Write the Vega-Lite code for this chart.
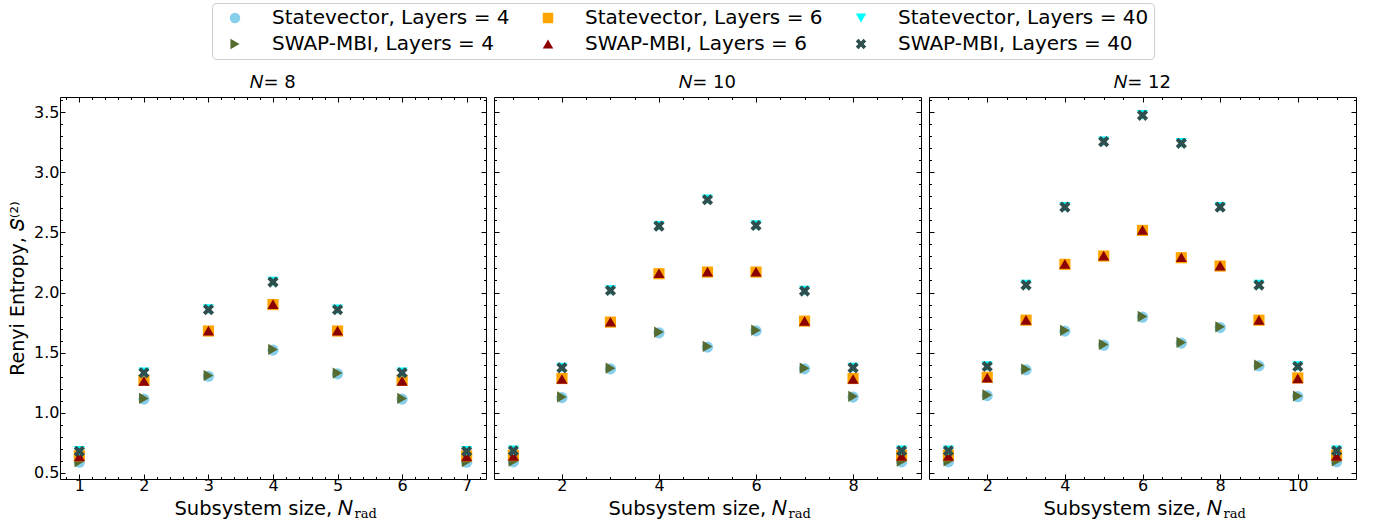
{
  "$schema": "https://vega.github.io/schema/vega-lite/v6.json",
  "padding": {"left": 8, "top": 2, "right": 5, "bottom": 5},
  "background": "#ffffff",
  "spacing": 6,
  "data": {"values": [
    {"p":8,"x":1,"s":"Statevector, Layers = 4","y":0.589},{"p":8,"x":2,"s":"Statevector, Layers = 4","y":1.114},{"p":8,"x":3,"s":"Statevector, Layers = 4","y":1.304},{"p":8,"x":4,"s":"Statevector, Layers = 4","y":1.521},{"p":8,"x":5,"s":"Statevector, Layers = 4","y":1.324},{"p":8,"x":6,"s":"Statevector, Layers = 4","y":1.114},{"p":8,"x":7,"s":"Statevector, Layers = 4","y":0.589},
    {"p":10,"x":1,"s":"Statevector, Layers = 4","y":0.592},{"p":10,"x":2,"s":"Statevector, Layers = 4","y":1.126},{"p":10,"x":3,"s":"Statevector, Layers = 4","y":1.365},{"p":10,"x":4,"s":"Statevector, Layers = 4","y":1.665},{"p":10,"x":5,"s":"Statevector, Layers = 4","y":1.546},{"p":10,"x":6,"s":"Statevector, Layers = 4","y":1.681},{"p":10,"x":7,"s":"Statevector, Layers = 4","y":1.365},{"p":10,"x":8,"s":"Statevector, Layers = 4","y":1.131},{"p":10,"x":9,"s":"Statevector, Layers = 4","y":0.592},
    {"p":12,"x":1,"s":"Statevector, Layers = 4","y":0.594},{"p":12,"x":2,"s":"Statevector, Layers = 4","y":1.143},{"p":12,"x":3,"s":"Statevector, Layers = 4","y":1.357},{"p":12,"x":4,"s":"Statevector, Layers = 4","y":1.679},{"p":12,"x":5,"s":"Statevector, Layers = 4","y":1.562},{"p":12,"x":6,"s":"Statevector, Layers = 4","y":1.795},{"p":12,"x":7,"s":"Statevector, Layers = 4","y":1.579},{"p":12,"x":8,"s":"Statevector, Layers = 4","y":1.709},{"p":12,"x":9,"s":"Statevector, Layers = 4","y":1.390},{"p":12,"x":10,"s":"Statevector, Layers = 4","y":1.134},{"p":12,"x":11,"s":"Statevector, Layers = 4","y":0.594},

    {"p":8,"x":1,"s":"SWAP-MBI, Layers = 4","y":0.595},{"p":8,"x":2,"s":"SWAP-MBI, Layers = 4","y":1.12},{"p":8,"x":3,"s":"SWAP-MBI, Layers = 4","y":1.31},{"p":8,"x":4,"s":"SWAP-MBI, Layers = 4","y":1.527},{"p":8,"x":5,"s":"SWAP-MBI, Layers = 4","y":1.33},{"p":8,"x":6,"s":"SWAP-MBI, Layers = 4","y":1.12},{"p":8,"x":7,"s":"SWAP-MBI, Layers = 4","y":0.595},
    {"p":10,"x":1,"s":"SWAP-MBI, Layers = 4","y":0.598},{"p":10,"x":2,"s":"SWAP-MBI, Layers = 4","y":1.132},{"p":10,"x":3,"s":"SWAP-MBI, Layers = 4","y":1.371},{"p":10,"x":4,"s":"SWAP-MBI, Layers = 4","y":1.671},{"p":10,"x":5,"s":"SWAP-MBI, Layers = 4","y":1.552},{"p":10,"x":6,"s":"SWAP-MBI, Layers = 4","y":1.687},{"p":10,"x":7,"s":"SWAP-MBI, Layers = 4","y":1.371},{"p":10,"x":8,"s":"SWAP-MBI, Layers = 4","y":1.137},{"p":10,"x":9,"s":"SWAP-MBI, Layers = 4","y":0.598},
    {"p":12,"x":1,"s":"SWAP-MBI, Layers = 4","y":0.6},{"p":12,"x":2,"s":"SWAP-MBI, Layers = 4","y":1.149},{"p":12,"x":3,"s":"SWAP-MBI, Layers = 4","y":1.363},{"p":12,"x":4,"s":"SWAP-MBI, Layers = 4","y":1.685},{"p":12,"x":5,"s":"SWAP-MBI, Layers = 4","y":1.568},{"p":12,"x":6,"s":"SWAP-MBI, Layers = 4","y":1.801},{"p":12,"x":7,"s":"SWAP-MBI, Layers = 4","y":1.585},{"p":12,"x":8,"s":"SWAP-MBI, Layers = 4","y":1.715},{"p":12,"x":9,"s":"SWAP-MBI, Layers = 4","y":1.396},{"p":12,"x":10,"s":"SWAP-MBI, Layers = 4","y":1.14},{"p":12,"x":11,"s":"SWAP-MBI, Layers = 4","y":0.6},

    {"p":8,"x":1,"s":"Statevector, Layers = 6","y":0.642},{"p":8,"x":2,"s":"Statevector, Layers = 6","y":1.27},{"p":8,"x":3,"s":"Statevector, Layers = 6","y":1.68},{"p":8,"x":4,"s":"Statevector, Layers = 6","y":1.90},{"p":8,"x":5,"s":"Statevector, Layers = 6","y":1.68},{"p":8,"x":6,"s":"Statevector, Layers = 6","y":1.27},{"p":8,"x":7,"s":"Statevector, Layers = 6","y":0.642},
    {"p":10,"x":1,"s":"Statevector, Layers = 6","y":0.645},{"p":10,"x":2,"s":"Statevector, Layers = 6","y":1.285},{"p":10,"x":3,"s":"Statevector, Layers = 6","y":1.754},{"p":10,"x":4,"s":"Statevector, Layers = 6","y":2.156},{"p":10,"x":5,"s":"Statevector, Layers = 6","y":2.170},{"p":10,"x":6,"s":"Statevector, Layers = 6","y":2.170},{"p":10,"x":7,"s":"Statevector, Layers = 6","y":1.762},{"p":10,"x":8,"s":"Statevector, Layers = 6","y":1.285},{"p":10,"x":9,"s":"Statevector, Layers = 6","y":0.645},
    {"p":12,"x":1,"s":"Statevector, Layers = 6","y":0.645},{"p":12,"x":2,"s":"Statevector, Layers = 6","y":1.296},{"p":12,"x":3,"s":"Statevector, Layers = 6","y":1.770},{"p":12,"x":4,"s":"Statevector, Layers = 6","y":2.234},{"p":12,"x":5,"s":"Statevector, Layers = 6","y":2.303},{"p":12,"x":6,"s":"Statevector, Layers = 6","y":2.516},{"p":12,"x":7,"s":"Statevector, Layers = 6","y":2.289},{"p":12,"x":8,"s":"Statevector, Layers = 6","y":2.220},{"p":12,"x":9,"s":"Statevector, Layers = 6","y":1.770},{"p":12,"x":10,"s":"Statevector, Layers = 6","y":1.29},{"p":12,"x":11,"s":"Statevector, Layers = 6","y":0.645},

    {"p":8,"x":1,"s":"SWAP-MBI, Layers = 6","y":0.638},{"p":8,"x":2,"s":"SWAP-MBI, Layers = 6","y":1.266},{"p":8,"x":3,"s":"SWAP-MBI, Layers = 6","y":1.683},{"p":8,"x":4,"s":"SWAP-MBI, Layers = 6","y":1.904},{"p":8,"x":5,"s":"SWAP-MBI, Layers = 6","y":1.683},{"p":8,"x":6,"s":"SWAP-MBI, Layers = 6","y":1.266},{"p":8,"x":7,"s":"SWAP-MBI, Layers = 6","y":0.638},
    {"p":10,"x":1,"s":"SWAP-MBI, Layers = 6","y":0.641},{"p":10,"x":2,"s":"SWAP-MBI, Layers = 6","y":1.281},{"p":10,"x":3,"s":"SWAP-MBI, Layers = 6","y":1.757},{"p":10,"x":4,"s":"SWAP-MBI, Layers = 6","y":2.16},{"p":10,"x":5,"s":"SWAP-MBI, Layers = 6","y":2.174},{"p":10,"x":6,"s":"SWAP-MBI, Layers = 6","y":2.173},{"p":10,"x":7,"s":"SWAP-MBI, Layers = 6","y":1.765},{"p":10,"x":8,"s":"SWAP-MBI, Layers = 6","y":1.281},{"p":10,"x":9,"s":"SWAP-MBI, Layers = 6","y":0.641},
    {"p":12,"x":1,"s":"SWAP-MBI, Layers = 6","y":0.641},{"p":12,"x":2,"s":"SWAP-MBI, Layers = 6","y":1.292},{"p":12,"x":3,"s":"SWAP-MBI, Layers = 6","y":1.773},{"p":12,"x":4,"s":"SWAP-MBI, Layers = 6","y":2.238},{"p":12,"x":5,"s":"SWAP-MBI, Layers = 6","y":2.307},{"p":12,"x":6,"s":"SWAP-MBI, Layers = 6","y":2.52},{"p":12,"x":7,"s":"SWAP-MBI, Layers = 6","y":2.293},{"p":12,"x":8,"s":"SWAP-MBI, Layers = 6","y":2.224},{"p":12,"x":9,"s":"SWAP-MBI, Layers = 6","y":1.773},{"p":12,"x":10,"s":"SWAP-MBI, Layers = 6","y":1.286},{"p":12,"x":11,"s":"SWAP-MBI, Layers = 6","y":0.641},

    {"p":8,"x":1,"s":"Statevector, Layers = 40","y":0.684},{"p":8,"x":2,"s":"Statevector, Layers = 40","y":1.336},{"p":8,"x":3,"s":"Statevector, Layers = 40","y":1.862},{"p":8,"x":4,"s":"Statevector, Layers = 40","y":2.091},{"p":8,"x":5,"s":"Statevector, Layers = 40","y":1.861},{"p":8,"x":6,"s":"Statevector, Layers = 40","y":1.336},{"p":8,"x":7,"s":"Statevector, Layers = 40","y":0.684},
    {"p":10,"x":1,"s":"Statevector, Layers = 40","y":0.688},{"p":10,"x":2,"s":"Statevector, Layers = 40","y":1.377},{"p":10,"x":3,"s":"Statevector, Layers = 40","y":2.020},{"p":10,"x":4,"s":"Statevector, Layers = 40","y":2.555},{"p":10,"x":5,"s":"Statevector, Layers = 40","y":2.775},{"p":10,"x":6,"s":"Statevector, Layers = 40","y":2.560},{"p":10,"x":7,"s":"Statevector, Layers = 40","y":2.015},{"p":10,"x":8,"s":"Statevector, Layers = 40","y":1.377},{"p":10,"x":9,"s":"Statevector, Layers = 40","y":0.688},
    {"p":12,"x":1,"s":"Statevector, Layers = 40","y":0.688},{"p":12,"x":2,"s":"Statevector, Layers = 40","y":1.388},{"p":12,"x":3,"s":"Statevector, Layers = 40","y":2.065},{"p":12,"x":4,"s":"Statevector, Layers = 40","y":2.713},{"p":12,"x":5,"s":"Statevector, Layers = 40","y":3.257},{"p":12,"x":6,"s":"Statevector, Layers = 40","y":3.476},{"p":12,"x":7,"s":"Statevector, Layers = 40","y":3.243},{"p":12,"x":8,"s":"Statevector, Layers = 40","y":2.713},{"p":12,"x":9,"s":"Statevector, Layers = 40","y":2.065},{"p":12,"x":10,"s":"Statevector, Layers = 40","y":1.388},{"p":12,"x":11,"s":"Statevector, Layers = 40","y":0.688},

    {"p":8,"x":1,"s":"SWAP-MBI, Layers = 40","y":0.68},{"p":8,"x":2,"s":"SWAP-MBI, Layers = 40","y":1.333},{"p":8,"x":3,"s":"SWAP-MBI, Layers = 40","y":1.858},{"p":8,"x":4,"s":"SWAP-MBI, Layers = 40","y":2.087},{"p":8,"x":5,"s":"SWAP-MBI, Layers = 40","y":1.857},{"p":8,"x":6,"s":"SWAP-MBI, Layers = 40","y":1.333},{"p":8,"x":7,"s":"SWAP-MBI, Layers = 40","y":0.68},
    {"p":10,"x":1,"s":"SWAP-MBI, Layers = 40","y":0.685},{"p":10,"x":2,"s":"SWAP-MBI, Layers = 40","y":1.374},{"p":10,"x":3,"s":"SWAP-MBI, Layers = 40","y":2.017},{"p":10,"x":4,"s":"SWAP-MBI, Layers = 40","y":2.552},{"p":10,"x":5,"s":"SWAP-MBI, Layers = 40","y":2.771},{"p":10,"x":6,"s":"SWAP-MBI, Layers = 40","y":2.557},{"p":10,"x":7,"s":"SWAP-MBI, Layers = 40","y":2.012},{"p":10,"x":8,"s":"SWAP-MBI, Layers = 40","y":1.374},{"p":10,"x":9,"s":"SWAP-MBI, Layers = 40","y":0.685},
    {"p":12,"x":1,"s":"SWAP-MBI, Layers = 40","y":0.685},{"p":12,"x":2,"s":"SWAP-MBI, Layers = 40","y":1.385},{"p":12,"x":3,"s":"SWAP-MBI, Layers = 40","y":2.062},{"p":12,"x":4,"s":"SWAP-MBI, Layers = 40","y":2.710},{"p":12,"x":5,"s":"SWAP-MBI, Layers = 40","y":3.254},{"p":12,"x":6,"s":"SWAP-MBI, Layers = 40","y":3.473},{"p":12,"x":7,"s":"SWAP-MBI, Layers = 40","y":3.240},{"p":12,"x":8,"s":"SWAP-MBI, Layers = 40","y":2.710},{"p":12,"x":9,"s":"SWAP-MBI, Layers = 40","y":2.062},{"p":12,"x":10,"s":"SWAP-MBI, Layers = 40","y":1.385},{"p":12,"x":11,"s":"SWAP-MBI, Layers = 40","y":0.685}
  ]},
  "hconcat": [
    {
      "width": 426, "height": 382,
      "title": {"text": "𝑁=  8"},
      "transform": [{"filter": "datum.p == 8"}],
      "layer": [
        {"mark": {"type": "point", "filled": true, "opacity": 1, "size": 125, "strokeWidth": 0},
         "encoding": {
           "x": {"field": "x", "type": "quantitative", "scale": {"domain": [0.7, 7.3], "nice": false, "zero": false},
                 "axis": {"orient": "bottom", "values": [1,2,3,4,5,6,7], "tickSize": -5, "labelPadding": 3, "format": "d", "title": "Subsystem size, 𝑁", "titleFontSize": 19.5, "titleAlign": "right", "titleX": 293, "titleY": 35, "titleBaseline": "alphabetic"}},
           "y": {"field": "y", "type": "quantitative", "scale": {"domain": [0.45, 3.625], "nice": false, "zero": false},
                 "axis": {"orient": "left", "values": [0.5,1,1.5,2,2.5,3,3.5], "format": ".1f", "tickSize": -5, "labelPadding": 6, "title": "Renyi Entropy, 𝑆⁽²⁾", "titlePadding": 6}},
           "color": {"field": "s", "type": "nominal",
                     "scale": {"domain": ["Statevector, Layers = 4","SWAP-MBI, Layers = 4","Statevector, Layers = 6","SWAP-MBI, Layers = 6","Statevector, Layers = 40","SWAP-MBI, Layers = 40"],
                               "range": ["#87CEEB","#556B2F","#FFA500","#8B0000","#00FFFF","#2F4F4F"]},
                     "legend": {"orient": "none", "legendX": 152, "legendY": -94, "columns": 3, "title": null}},
           "shape": {"field": "s", "type": "nominal",
                     "scale": {"domain": ["Statevector, Layers = 4","SWAP-MBI, Layers = 4","Statevector, Layers = 6","SWAP-MBI, Layers = 6","Statevector, Layers = 40","SWAP-MBI, Layers = 40"],
                               "range": ["circle","triangle-right","square","triangle-up","triangle-down","M-1,-0.5L-0.5,-1L0,-0.5L0.5,-1L1,-0.5L0.5,0L1,0.5L0.5,1L0,0.5L-0.5,1L-1,0.5L-0.5,0Z"]},
                     "legend": {"orient": "none", "legendX": 152, "legendY": -94, "columns": 3, "title": null}}
         }},
        {"mark": {"type": "point", "opacity": 0},
         "encoding": {
           "x": {"field": "x", "type": "quantitative", "scale": {"domain": [0.7, 7.3], "nice": false, "zero": false},
                 "axis": {"orient": "bottom", "values": [0.8,1.2,1.4,1.6,1.8,2.2,2.4,2.6,2.8,3.2,3.4,3.6,3.8,4.2,4.4,4.6,4.8,5.2,5.4,5.6,5.8,6.2,6.4,6.6,6.8,7.2], "tickSize": -2.5, "labels": false, "title": "rad", "titleFontSize": 13, "titleAlign": "left", "titleX": 294, "titleY": 38, "titleBaseline": "alphabetic", "titleFont": "DejaVu Serif"}},
           "y": {"field": "y", "type": "quantitative", "scale": {"domain": [0.45, 3.625], "nice": false, "zero": false},
                 "axis": {"orient": "left", "values": [0.6,0.7,0.8,0.9,1.1,1.2,1.3,1.4,1.6,1.7,1.8,1.9,2.1,2.2,2.3,2.4,2.6,2.7,2.8,2.9,3.1,3.2,3.3,3.4,3.6], "tickSize": -2.5, "labels": false, "title": null}}
         }},
        {"mark": {"type": "point", "opacity": 0},
         "encoding": {
           "x": {"field": "x", "type": "quantitative", "scale": {"domain": [0.7, 7.3], "nice": false, "zero": false},
                 "axis": {"orient": "top", "values": [1,2,3,4,5,6,7], "tickSize": -5, "labels": false, "title": null}},
           "y": {"field": "y", "type": "quantitative", "scale": {"domain": [0.45, 3.625], "nice": false, "zero": false},
                 "axis": {"orient": "right", "values": [0.5,1,1.5,2,2.5,3,3.5], "tickSize": -5, "labels": false, "title": null}}
         }},
        {"mark": {"type": "point", "opacity": 0},
         "encoding": {
           "x": {"field": "x", "type": "quantitative", "scale": {"domain": [0.7, 7.3], "nice": false, "zero": false},
                 "axis": {"orient": "top", "values": [0.8,1.2,1.4,1.6,1.8,2.2,2.4,2.6,2.8,3.2,3.4,3.6,3.8,4.2,4.4,4.6,4.8,5.2,5.4,5.6,5.8,6.2,6.4,6.6,6.8,7.2], "tickSize": -2.5, "labels": false, "title": null}},
           "y": {"field": "y", "type": "quantitative", "scale": {"domain": [0.45, 3.625], "nice": false, "zero": false},
                 "axis": {"orient": "right", "values": [0.6,0.7,0.8,0.9,1.1,1.2,1.3,1.4,1.6,1.7,1.8,1.9,2.1,2.2,2.3,2.4,2.6,2.7,2.8,2.9,3.1,3.2,3.3,3.4,3.6], "tickSize": -2.5, "labels": false, "title": null}}
         }}
      ],
      "resolve": {"axis": {"x": "independent", "y": "independent"}}
    },
    {
      "width": 427, "height": 382,
      "title": {"text": "𝑁=  10"},
      "transform": [{"filter": "datum.p == 10"}],
      "layer": [
        {"mark": {"type": "point", "filled": true, "opacity": 1, "size": 125, "strokeWidth": 0},
         "encoding": {
           "x": {"field": "x", "type": "quantitative", "scale": {"domain": [0.6, 9.4], "nice": false, "zero": false},
                 "axis": {"orient": "bottom", "values": [2,4,6,8], "tickSize": -5, "labelPadding": 3, "format": "d", "title": "Subsystem size, 𝑁", "titleFontSize": 19.5, "titleAlign": "right", "titleX": 293, "titleY": 35, "titleBaseline": "alphabetic"}},
           "y": {"field": "y", "type": "quantitative", "scale": {"domain": [0.45, 3.625], "nice": false, "zero": false},
                 "axis": {"orient": "left", "values": [0.5,1,1.5,2,2.5,3,3.5], "tickSize": -5, "labels": false, "title": null}},
           "color": {"field": "s", "type": "nominal",
                     "scale": {"domain": ["Statevector, Layers = 4","SWAP-MBI, Layers = 4","Statevector, Layers = 6","SWAP-MBI, Layers = 6","Statevector, Layers = 40","SWAP-MBI, Layers = 40"],
                               "range": ["#87CEEB","#556B2F","#FFA500","#8B0000","#00FFFF","#2F4F4F"]},
                     "legend": {"orient": "none", "legendX": 152, "legendY": -94, "columns": 3, "title": null}},
           "shape": {"field": "s", "type": "nominal",
                     "scale": {"domain": ["Statevector, Layers = 4","SWAP-MBI, Layers = 4","Statevector, Layers = 6","SWAP-MBI, Layers = 6","Statevector, Layers = 40","SWAP-MBI, Layers = 40"],
                               "range": ["circle","triangle-right","square","triangle-up","triangle-down","M-1,-0.5L-0.5,-1L0,-0.5L0.5,-1L1,-0.5L0.5,0L1,0.5L0.5,1L0,0.5L-0.5,1L-1,0.5L-0.5,0Z"]},
                     "legend": {"orient": "none", "legendX": 152, "legendY": -94, "columns": 3, "title": null}}
         }},
        {"mark": {"type": "point", "opacity": 0},
         "encoding": {
           "x": {"field": "x", "type": "quantitative", "scale": {"domain": [0.6, 9.4], "nice": false, "zero": false},
                 "axis": {"orient": "bottom", "values": [1,1.5,2.5,3,3.5,4.5,5,5.5,6.5,7,7.5,8.5,9], "tickSize": -2.5, "labels": false, "title": "rad", "titleFontSize": 13, "titleAlign": "left", "titleX": 294, "titleY": 38, "titleBaseline": "alphabetic", "titleFont": "DejaVu Serif"}},
           "y": {"field": "y", "type": "quantitative", "scale": {"domain": [0.45, 3.625], "nice": false, "zero": false},
                 "axis": {"orient": "left", "values": [0.6,0.7,0.8,0.9,1.1,1.2,1.3,1.4,1.6,1.7,1.8,1.9,2.1,2.2,2.3,2.4,2.6,2.7,2.8,2.9,3.1,3.2,3.3,3.4,3.6], "tickSize": -2.5, "labels": false, "title": null}}
         }},
        {"mark": {"type": "point", "opacity": 0},
         "encoding": {
           "x": {"field": "x", "type": "quantitative", "scale": {"domain": [0.6, 9.4], "nice": false, "zero": false},
                 "axis": {"orient": "top", "values": [2,4,6,8], "tickSize": -5, "labels": false, "title": null}},
           "y": {"field": "y", "type": "quantitative", "scale": {"domain": [0.45, 3.625], "nice": false, "zero": false},
                 "axis": {"orient": "right", "values": [0.5,1,1.5,2,2.5,3,3.5], "tickSize": -5, "labels": false, "title": null}}
         }},
        {"mark": {"type": "point", "opacity": 0},
         "encoding": {
           "x": {"field": "x", "type": "quantitative", "scale": {"domain": [0.6, 9.4], "nice": false, "zero": false},
                 "axis": {"orient": "top", "values": [1,1.5,2.5,3,3.5,4.5,5,5.5,6.5,7,7.5,8.5,9], "tickSize": -2.5, "labels": false, "title": null}},
           "y": {"field": "y", "type": "quantitative", "scale": {"domain": [0.45, 3.625], "nice": false, "zero": false},
                 "axis": {"orient": "right", "values": [0.6,0.7,0.8,0.9,1.1,1.2,1.3,1.4,1.6,1.7,1.8,1.9,2.1,2.2,2.3,2.4,2.6,2.7,2.8,2.9,3.1,3.2,3.3,3.4,3.6], "tickSize": -2.5, "labels": false, "title": null}}
         }}
      ],
      "resolve": {"axis": {"x": "independent", "y": "independent"}}
    },
    {
      "width": 427, "height": 382,
      "title": {"text": "𝑁=  12"},
      "transform": [{"filter": "datum.p == 12"}],
      "layer": [
        {"mark": {"type": "point", "filled": true, "opacity": 1, "size": 125, "strokeWidth": 0},
         "encoding": {
           "x": {"field": "x", "type": "quantitative", "scale": {"domain": [0.5, 11.5], "nice": false, "zero": false},
                 "axis": {"orient": "bottom", "values": [2,4,6,8,10], "tickSize": -5, "labelPadding": 3, "format": "d", "title": "Subsystem size, 𝑁", "titleFontSize": 19.5, "titleAlign": "right", "titleX": 293, "titleY": 35, "titleBaseline": "alphabetic"}},
           "y": {"field": "y", "type": "quantitative", "scale": {"domain": [0.45, 3.625], "nice": false, "zero": false},
                 "axis": {"orient": "left", "values": [0.5,1,1.5,2,2.5,3,3.5], "tickSize": -5, "labels": false, "title": null}},
           "color": {"field": "s", "type": "nominal",
                     "scale": {"domain": ["Statevector, Layers = 4","SWAP-MBI, Layers = 4","Statevector, Layers = 6","SWAP-MBI, Layers = 6","Statevector, Layers = 40","SWAP-MBI, Layers = 40"],
                               "range": ["#87CEEB","#556B2F","#FFA500","#8B0000","#00FFFF","#2F4F4F"]},
                     "legend": {"orient": "none", "legendX": 152, "legendY": -94, "columns": 3, "title": null}},
           "shape": {"field": "s", "type": "nominal",
                     "scale": {"domain": ["Statevector, Layers = 4","SWAP-MBI, Layers = 4","Statevector, Layers = 6","SWAP-MBI, Layers = 6","Statevector, Layers = 40","SWAP-MBI, Layers = 40"],
                               "range": ["circle","triangle-right","square","triangle-up","triangle-down","M-1,-0.5L-0.5,-1L0,-0.5L0.5,-1L1,-0.5L0.5,0L1,0.5L0.5,1L0,0.5L-0.5,1L-1,0.5L-0.5,0Z"]},
                     "legend": {"orient": "none", "legendX": 152, "legendY": -94, "columns": 3, "title": null}}
         }},
        {"mark": {"type": "point", "opacity": 0},
         "encoding": {
           "x": {"field": "x", "type": "quantitative", "scale": {"domain": [0.5, 11.5], "nice": false, "zero": false},
                 "axis": {"orient": "bottom", "values": [1,1.5,2.5,3,3.5,4.5,5,5.5,6.5,7,7.5,8.5,9,9.5,10.5,11], "tickSize": -2.5, "labels": false, "title": "rad", "titleFontSize": 13, "titleAlign": "left", "titleX": 294, "titleY": 38, "titleBaseline": "alphabetic", "titleFont": "DejaVu Serif"}},
           "y": {"field": "y", "type": "quantitative", "scale": {"domain": [0.45, 3.625], "nice": false, "zero": false},
                 "axis": {"orient": "left", "values": [0.6,0.7,0.8,0.9,1.1,1.2,1.3,1.4,1.6,1.7,1.8,1.9,2.1,2.2,2.3,2.4,2.6,2.7,2.8,2.9,3.1,3.2,3.3,3.4,3.6], "tickSize": -2.5, "labels": false, "title": null}}
         }},
        {"mark": {"type": "point", "opacity": 0},
         "encoding": {
           "x": {"field": "x", "type": "quantitative", "scale": {"domain": [0.5, 11.5], "nice": false, "zero": false},
                 "axis": {"orient": "top", "values": [2,4,6,8,10], "tickSize": -5, "labels": false, "title": null}},
           "y": {"field": "y", "type": "quantitative", "scale": {"domain": [0.45, 3.625], "nice": false, "zero": false},
                 "axis": {"orient": "right", "values": [0.5,1,1.5,2,2.5,3,3.5], "tickSize": -5, "labels": false, "title": null}}
         }},
        {"mark": {"type": "point", "opacity": 0},
         "encoding": {
           "x": {"field": "x", "type": "quantitative", "scale": {"domain": [0.5, 11.5], "nice": false, "zero": false},
                 "axis": {"orient": "top", "values": [1,1.5,2.5,3,3.5,4.5,5,5.5,6.5,7,7.5,8.5,9,9.5,10.5,11], "tickSize": -2.5, "labels": false, "title": null}},
           "y": {"field": "y", "type": "quantitative", "scale": {"domain": [0.45, 3.625], "nice": false, "zero": false},
                 "axis": {"orient": "right", "values": [0.6,0.7,0.8,0.9,1.1,1.2,1.3,1.4,1.6,1.7,1.8,1.9,2.1,2.2,2.3,2.4,2.6,2.7,2.8,2.9,3.1,3.2,3.3,3.4,3.6], "tickSize": -2.5, "labels": false, "title": null}}
         }}
      ],
      "resolve": {"axis": {"x": "independent", "y": "independent"}}
    }
  ],
  "config": {
    "view": {"stroke": "#000000", "strokeWidth": 1},
    "axis": {"domain": false, "grid": false, "tickColor": "#000000", "tickWidth": 1, "labelFont": "DejaVu Sans", "labelFontSize": 16, "labelColor": "#000000", "labelPadding": 8, "titleFont": "DejaVu Sans", "titleFontSize": 19, "titleFontWeight": "normal", "titleColor": "#000000"},
    "title": {"font": "DejaVu Sans", "fontSize": 18, "fontWeight": "normal", "color": "#000000", "offset": 5},
    "legend": {"labelFont": "DejaVu Sans", "labelFontSize": 20, "labelColor": "#000000", "labelLimit": 400, "symbolSize": 110, "symbolStrokeWidth": 0, "symbolOpacity": 1, "labelOffset": 27, "columnPadding": 20, "rowPadding": 6, "padding": 5, "symbolOffset": 8, "strokeColor": "#cccccc", "cornerRadius": 4, "fillColor": "#ffffff"}
  }
}
